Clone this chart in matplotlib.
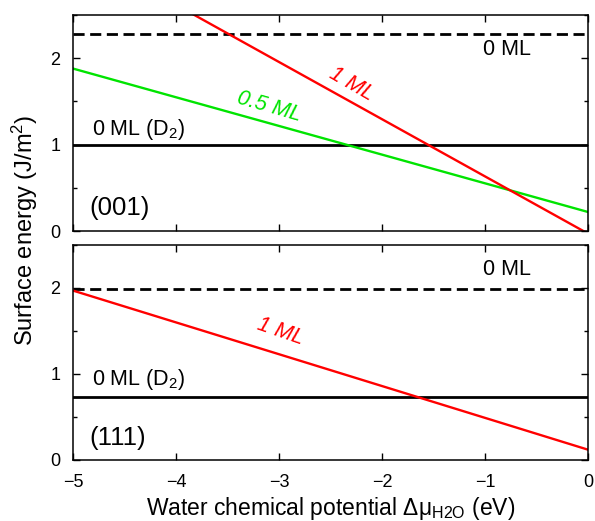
import numpy as np
import matplotlib.pyplot as plt
from matplotlib.ticker import MultipleLocator

plt.rcParams['font.family'] = ['Liberation Sans', 'DejaVu Sans']
plt.rcParams['mathtext.fontset'] = 'custom'
plt.rcParams['mathtext.rm'] = 'Liberation Sans'
plt.rcParams['mathtext.it'] = 'Liberation Sans:italic'

# Data
mu = [-5.0, 0.0]  # water chemical potential (eV)

# (001) surface
e001_0ml = [2.28, 2.28]
e001_d2 = [0.99, 0.99]
e001_half = [1.88, 0.22]
e001_1ml = [3.28, -0.03]

# (111) surface
e111_0ml = [1.99, 1.99]
e111_d2 = [0.73, 0.73]
e111_1ml = [1.97, 0.12]

W, H = 595, 521
fig = plt.figure(figsize=(W / 100, H / 100), dpi=100)
ax1 = fig.add_axes([73 / W, (H - 231) / H, 515 / W, 216 / H])
ax2 = fig.add_axes([73 / W, (H - 460) / H, 515 / W, 215 / H])

dash = (0, (4, 2))
red = '#ff0000'
green = '#00e400'

ax1.plot(mu, e001_0ml, color='black', lw=2.0, linestyle=dash)
ax1.plot(mu, e001_d2, color='black', lw=2.0)
ax1.plot(mu, e001_half, color=green, lw=1.7)
ax1.plot(mu, e001_1ml, color=red, lw=1.7)

ax2.plot(mu, e111_0ml, color='black', lw=2.0, linestyle=dash)
ax2.plot(mu, e111_d2, color='black', lw=2.0)
ax2.plot(mu, e111_1ml, color=red, lw=1.7)

for ax in (ax1, ax2):
    ax.set_xlim(-5, 0)
    ax.set_ylim(0, 2.5)
    ax.xaxis.set_major_locator(MultipleLocator(1))
    ax.yaxis.set_major_locator(MultipleLocator(1))
    ax.yaxis.set_minor_locator(MultipleLocator(0.5))
    ax.tick_params(which='both', direction='in', top=True, right=True,
                   labelsize=13, width=1.0)
    ax.tick_params(which='major', length=5)
    ax.tick_params(which='minor', length=3)
    ax.tick_params(axis='y', pad=9)
    ax.tick_params(axis='x', pad=10)
    for s in ax.spines.values():
        s.set_linewidth(1.1)

ax1.tick_params(labelbottom=False)

# Labels top panel
ax1.text(-1.02, 2.10, '0 ML', fontsize=15.5, va='center', ha='left')
ax1.text(-2.30, 1.70, '1 ML', fontsize=15.5, color=red, style='italic',
         rotation=-30, ha='center', va='center')
ax1.text(-3.10, 1.44, '0.5 ML', fontsize=15.5, color=green, style='italic',
         rotation=-16, ha='center', va='center')
ax1.text(-4.82, 1.17, r'0 ML (D$_2$)', fontsize=15.5, va='center', ha='left')
ax1.text(-4.84, 0.27, '(001)', fontsize=18.5, va='center', ha='left')

# Labels bottom panel
ax2.text(-1.02, 2.22, '0 ML', fontsize=15.5, va='center', ha='left')
ax2.text(-2.99, 1.49, '1 ML', fontsize=15.5, color=red, style='italic',
         rotation=-19, ha='center', va='center')
ax2.text(-4.82, 0.94, r'0 ML (D$_2$)', fontsize=15.5, va='center', ha='left')
ax2.text(-4.84, 0.26, '(111)', fontsize=18.5, va='center', ha='left')

ax2.set_xlabel(r'Water chemical potential Δμ$_{\mathregular{H2O}}$ (eV)',
               fontsize=16.5, labelpad=3)
fig.text(25 / W, 1 - 230 / H, r'Surface energy (J/m$^2$)', fontsize=17,
         rotation=90, ha='center', va='center')

fig.savefig('out.png', dpi=100)
